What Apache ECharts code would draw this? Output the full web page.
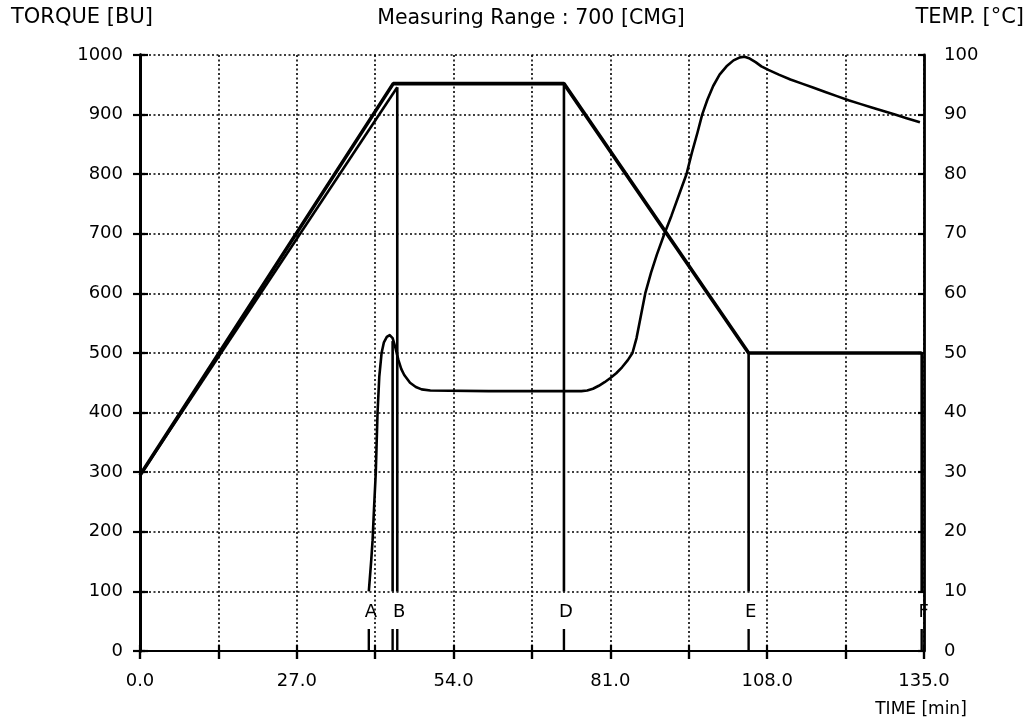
<!DOCTYPE html>
<html>
<head>
<meta charset="utf-8">
<script src="https://cdn.jsdelivr.net/npm/echarts@6/dist/echarts.min.js"></script>
<style>
  html, body { margin: 0; padding: 0; background: #fff; }
  #chart { width: 1032px; height: 725px; }
</style>
</head>
<body>
<div id="chart"></div>
<script>
// Time axis (min): grid every 13.5, labels every 27
const timeTickLabels = ['0.0', '27.0', '54.0', '81.0', '108.0', '135.0'];

// Viscosity trace: time (min) and torque (BU)
const viscTime = [39.4, 39.8, 40.05, 40.3, 40.6, 40.9, 41.2, 41.6, 42.0, 42.5, 43.0, 43.5, 44.0, 44.5, 45.0, 45.5,
  46.5, 47.5, 48.5, 50.0, 60.0, 70.0, 76.0, 77.0, 78.0, 79.0, 80.0, 81.0, 82.0, 83.0, 84.0, 84.8, 85.5, 86.2,
  87.0, 88.0, 89.0, 90.3, 91.5, 92.8, 94.1, 95.0, 96.0, 96.8, 97.7, 98.7, 99.8, 101.0, 102.2, 103.3, 104.1,
  105.0, 106.0, 107.0, 108.2, 110.0, 112.0, 114.0, 116.0, 118.0, 120.0, 122.0, 124.0, 126.0, 128.0, 130.0,
  132.0, 134.3];
const viscBU = [100, 150, 186, 240, 299, 399, 460, 500, 518, 527, 530, 525, 508, 488, 473, 463,
  450, 443, 439, 437, 436, 436, 436, 437, 440, 445, 451, 458, 466, 476, 488, 500, 525, 560,
  600, 635, 665, 700, 730, 765, 800, 835, 870, 900, 925, 948, 967, 981, 991, 996, 997,
  994, 988, 981, 975, 967, 959, 952, 945, 938, 931, 924, 918, 912, 906, 900,
  894, 887];

// Temperature program: heat, hold, cool, hold (°C)
const progTime = [0, 43.6, 73.0, 104.8, 134.6];
const progTemp = [29.5, 95.2, 95.2, 50, 50];

// Measured temperature during heating (°C)
const measTime = [0, 44.3];
const measTemp = [29.5, 94.6];

// Evaluation points
const markerTime = [39.4, 43.5, 44.3, 73.0, 104.8, 134.6];
const markerTopBU = [100, 520, 946, 952, 500, 500];
const markerName = ['A', '', 'B', 'D', 'E', 'F'];

const FONT = '"DejaVu Sans", sans-serif';
const pair = (xs, ys) => xs.map((x, i) => [x, ys[i]]);

const chart = echarts.init(document.getElementById('chart'), null, { renderer: 'canvas' });

const gridLine = { show: true, lineStyle: { color: '#000', width: 1.6, type: [2, 2.5] } };
const axisLine = (w) => ({ show: true, lineStyle: { color: '#000', width: w } });
const tick = (inside, len) => ({ show: true, inside, length: len, lineStyle: { color: '#000', width: 2.2 } });
const timeBase = { type: 'value', min: 0, max: 135, interval: 13.5 };
const buBase = { type: 'value', min: 0, max: 1000, interval: 100 };
const tempBase = { type: 'value', min: 0, max: 100, interval: 10 };
const plain = (v) => String(v);

chart.setOption({
  animation: false,
  backgroundColor: '#fff',
  grid: { left: 140, right: 108, top: 55, bottom: 74, containLabel: false },
  xAxis: [
    Object.assign({}, timeBase, {
      position: 'bottom',
      axisLine: axisLine(2.2),
      axisTick: tick(false, 8),
      axisLabel: {
        margin: 21, color: '#000', fontSize: 18, fontFamily: FONT,
        formatter: (v) => {
          const k = v / 27;
          return Math.abs(k - Math.round(k)) < 1e-6 ? timeTickLabels[Math.round(k)] : '';
        }
      },
      splitLine: gridLine
    }),
    Object.assign({}, timeBase, {
      position: 'bottom', axisLine: axisLine(2.2), axisTick: tick(true, 6),
      axisLabel: { show: false }, splitLine: { show: false }
    }),
    Object.assign({}, timeBase, {
      position: 'top', axisLine: axisLine(2.2), axisTick: tick(true, 8),
      axisLabel: { show: false }, splitLine: { show: false }
    })
  ],
  yAxis: [
    Object.assign({}, buBase, {
      position: 'left', axisLine: axisLine(3), axisTick: tick(false, 7),
      axisLabel: { margin: 17, color: '#000', fontSize: 18, fontFamily: FONT, formatter: plain },
      splitLine: gridLine
    }),
    Object.assign({}, buBase, {
      position: 'left', axisLine: axisLine(3), axisTick: tick(true, 5),
      axisLabel: { show: false }, splitLine: { show: false }
    }),
    Object.assign({}, tempBase, {
      position: 'right', axisLine: axisLine(2.8), axisTick: tick(false, 8),
      axisLabel: { margin: 20, color: '#000', fontSize: 18, fontFamily: FONT, formatter: plain },
      splitLine: { show: false }
    }),
    Object.assign({}, tempBase, {
      position: 'right', axisLine: axisLine(2.8), axisTick: tick(true, 6),
      axisLabel: { show: false }, splitLine: { show: false }
    })
  ],
  graphic: [
    { type: 'text', x: 11, y: 18, style: { text: 'TORQUE [BU]', font: '21px ' + FONT, fill: '#000', verticalAlign: 'middle' } },
    { type: 'text', x: 531, y: 19, style: { text: 'Measuring Range : 700 [CMG]', font: '20.5px ' + FONT, fill: '#000', align: 'center', verticalAlign: 'middle' } },
    { type: 'text', x: 1024, y: 18, style: { text: 'TEMP. [°C]', font: '21px ' + FONT, fill: '#000', align: 'right', verticalAlign: 'middle' } },
    { type: 'text', x: 921, y: 710, style: { text: 'TIME [min]', font: '17px ' + FONT, fill: '#000', align: 'center', verticalAlign: 'middle' } }
  ],
  series: [
    {
      name: 'Viscosity', type: 'line', xAxisIndex: 0, yAxisIndex: 0,
      data: pair(viscTime, viscBU), showSymbol: false, smooth: false,
      lineStyle: { color: '#000', width: 2.6, join: 'round' }, z: 5
    },
    {
      name: 'Temperature program', type: 'line', xAxisIndex: 0, yAxisIndex: 2,
      data: pair(progTime, progTemp), showSymbol: false,
      lineStyle: { color: '#000', width: 3.6 }, z: 6
    },
    {
      name: 'Temperature measured', type: 'line', xAxisIndex: 0, yAxisIndex: 2,
      data: pair(measTime, measTemp), showSymbol: false,
      lineStyle: { color: '#000', width: 2.6 }, z: 6
    },
    {
      name: 'Points', type: 'custom', xAxisIndex: 0, yAxisIndex: 0,
      data: markerTime.map((t, i) => [t, markerTopBU[i], i]),
      renderItem: (params, api) => {
        const t = api.value(0);
        const top = api.value(1);
        const name = markerName[api.value(2)];
        const pTop = api.coord([t, top]);
        const pFoot = api.coord([t, 100]);
        const p0 = api.coord([t, 0]);
        const children = [];
        if (top > 100) {
          children.push({ type: 'line', shape: { x1: pTop[0], y1: pTop[1], x2: pFoot[0], y2: pFoot[1] },
            style: { stroke: '#000', lineWidth: 2.6 } });
        }
        children.push({ type: 'line', shape: { x1: p0[0], y1: p0[1] - 22, x2: p0[0], y2: p0[1] },
          style: { stroke: '#000', lineWidth: 2.4 } });
        if (name) {
          children.push({ type: 'text', style: { text: name, x: pFoot[0] + 2, y: pFoot[1] + 21,
            fill: '#000', font: '18px ' + FONT, align: 'center', verticalAlign: 'middle' } });
        }
        return { type: 'group', children };
      },
      z: 7
    }
  ]
});
</script>
</body>
</html>
